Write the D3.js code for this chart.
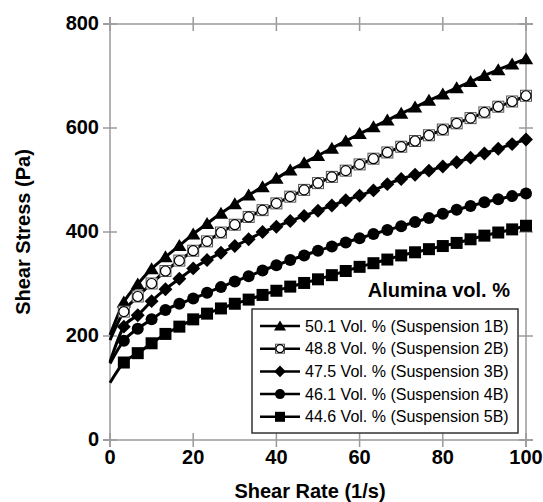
<!DOCTYPE html>
<html>
<head>
<meta charset="utf-8">
<script src="https://cdn.jsdelivr.net/npm/d3@7"></script>
<style>
  body { margin: 0; background: #fff; }
  svg { display: block; font-family: Arial, "Liberation Sans", sans-serif; }
</style>
</head>
<body>
<svg id="chart" width="543" height="502"></svg>
<script>
// shear rates of the measured points (1/s)
const shearRate = [3.33, 6.67, 10, 13.33, 16.67, 20, 23.33, 26.67, 30, 33.33,
  36.67, 40, 43.33, 46.67, 50, 53.33, 56.67, 60, 63.33, 66.67,
  70, 73.33, 76.67, 80, 83.33, 86.67, 90, 93.33, 96.67, 100];

const seriesNames = ['50.1 Vol. % (Suspension 1B)', '48.8 Vol. % (Suspension 2B)',
  '47.5 Vol. % (Suspension 3B)', '46.1 Vol. % (Suspension 4B)', '44.6 Vol. % (Suspension 5B)'];
const seriesMarkers = ['triangle', 'open', 'diamond', 'circle', 'square'];

// stress where each fitted line meets shear rate 0 (Pa)
const yieldStress = [202, 192, 150, 147, 110];

const stress1B = [265, 300, 329, 352, 374, 396, 416, 436, 454, 471, 487, 503, 519, 533, 547,
  561, 575, 589, 602, 615, 628, 640, 653, 665, 677, 689, 701, 712, 723, 733];
const stress2B = [247, 276, 301, 325, 345, 364, 382, 399, 414, 429, 442, 455, 468, 481, 494,
  506, 518, 530, 541, 553, 564, 575, 586, 597, 609, 619, 630, 641, 651, 662];
const stress3B = [218, 240, 267, 290, 310, 330, 346, 360, 373, 386, 400, 410, 421, 431, 441,
  451, 461, 470, 480, 492, 502, 510, 518, 526, 534, 543, 551, 560, 569, 578];
const stress4B = [191, 214, 232, 250, 262, 272, 283, 294, 305, 315, 326, 336, 346, 355, 364,
  372, 380, 388, 396, 404, 411, 419, 427, 435, 443, 450, 457, 463, 469, 474];
const stress5B = [149, 167, 186, 204, 218, 232, 243, 253, 262, 270, 279, 287, 295, 302, 309,
  317, 325, 333, 340, 347, 355, 361, 367, 373, 379, 386, 393, 399, 405, 412];

const xTicks = [0, 20, 40, 60, 80, 100];
const yTicks = [0, 200, 400, 600, 800];

const allStress = [stress1B, stress2B, stress3B, stress4B, stress5B];

const margin = {top: 24, right: 17, bottom: 62, left: 110};
const width = 543 - margin.left - margin.right;
const height = 502 - margin.top - margin.bottom;
const tick = 7;
const axisColor = '#9a9a9a';

const svg = d3.select('#chart');
const g = svg.append('g').attr('transform', `translate(${margin.left},${margin.top})`);

const x = d3.scaleLinear().domain([0, 100]).range([0, width]);
const y = d3.scaleLinear().domain([0, 800]).range([height, 0]);

// frame: four lines, each a bit longer than the box, ticks crossing them
const frame = g.append('g').attr('stroke', axisColor).attr('stroke-width', 1.5);
[0, height].forEach(yy => {
  frame.append('line').attr('x1', -tick).attr('x2', width + tick).attr('y1', yy).attr('y2', yy);
  xTicks.forEach(t => {
    frame.append('line').attr('x1', x(t)).attr('x2', x(t)).attr('y1', yy - tick).attr('y2', yy + tick);
  });
});
[0, width].forEach(xx => {
  frame.append('line').attr('y1', -tick).attr('y2', height + tick).attr('x1', xx).attr('x2', xx);
  yTicks.forEach(t => {
    frame.append('line').attr('y1', y(t)).attr('y2', y(t)).attr('x1', xx - tick).attr('x2', xx + tick);
  });
});

// tick labels
g.selectAll('.xlab').data(xTicks).enter().append('text')
  .attr('x', d => x(d)).attr('y', height + 24)
  .attr('text-anchor', 'middle')
  .style('font-size', '20px').style('font-weight', 'bold')
  .text(d => d);
g.selectAll('.ylab').data(yTicks).enter().append('text')
  .attr('x', -11).attr('y', d => y(d) + 6)
  .attr('text-anchor', 'end')
  .style('font-size', '20px').style('font-weight', 'bold')
  .text(d => d);

// axis titles
g.append('text')
  .attr('x', width / 2 - 8).attr('y', height + 58)
  .attr('text-anchor', 'middle')
  .style('font-size', '20px').style('font-weight', 'bold')
  .text('Shear Rate (1/s)');
g.append('text')
  .attr('transform', `translate(${-80},${height / 2}) rotate(-90)`)
  .attr('text-anchor', 'middle')
  .style('font-size', '20px').style('font-weight', 'bold')
  .text('Shear Stress (Pa)');

// marker drawing
const drawMarker = (sel, type, s) => {
  if (type === 'triangle') {
    sel.append('path').attr('d', `M0,${-s * 0.55}L${s * 0.6},${s * 0.45}L${-s * 0.6},${s * 0.45}Z`).attr('fill', '#000');
  } else if (type === 'square') {
    sel.append('rect').attr('x', -s / 2).attr('y', -s / 2).attr('width', s).attr('height', s).attr('fill', '#000');
  } else if (type === 'circle') {
    sel.append('circle').attr('r', s / 2).attr('fill', '#000');
  } else if (type === 'diamond') {
    const h = s * 0.58;
    sel.append('path').attr('d', `M0,${-h}L${h},0L0,${h}L${-h},0Z`).attr('fill', '#000');
  } else if (type === 'open') {
    sel.append('rect').attr('x', -s / 2 + 0.5).attr('y', -s / 2 + 0.5).attr('width', s - 1).attr('height', s - 1)
      .attr('fill', '#fff').attr('stroke', '#555').attr('stroke-width', 1);
    sel.append('circle').attr('r', s / 2 - 1).attr('fill', '#fff').attr('stroke', '#000').attr('stroke-width', 1.2);
  }
};

const line = d3.line()
  .x(d => x(d[0]))
  .y(d => y(d[1]))
  .curve(d3.curveMonotoneX);

allStress.forEach((vals, i) => {
  const pts = [[0, yieldStress[i]]].concat(shearRate.map((r, j) => [r, vals[j]]));
  g.append('path')
    .datum(pts)
    .attr('fill', 'none')
    .attr('stroke', '#000')
    .attr('stroke-width', 3)
    .attr('d', line);
  const mk = g.append('g');
  shearRate.forEach((r, j) => {
    const m = mk.append('g').attr('transform', `translate(${x(r)},${y(vals[j])})`);
    drawMarker(m, seriesMarkers[i], 12);
  });
});

// legend
g.append('text')
  .attr('x', 400).attr('y', 273)
  .attr('text-anchor', 'end')
  .style('font-size', '20px').style('font-weight', 'bold')
  .text('Alumina vol. %');

const legend = g.append('g').attr('transform', 'translate(142,285)');
legend.append('rect')
  .attr('width', 266).attr('height', 124)
  .attr('fill', '#fff').attr('stroke', '#333').attr('stroke-width', 1.5);
seriesNames.forEach((name, i) => {
  const ly = 17 + i * 22.7;
  legend.append('line').attr('x1', 8).attr('x2', 48).attr('y1', ly).attr('y2', ly)
    .attr('stroke', '#000').attr('stroke-width', 2.5);
  const m = legend.append('g').attr('transform', `translate(28,${ly})`);
  drawMarker(m, seriesMarkers[i], 10);
  legend.append('text')
    .attr('x', 53).attr('y', ly + 5.5)
    .style('font-size', '16px')
    .text(name);
});
</script>
</body>
</html>
